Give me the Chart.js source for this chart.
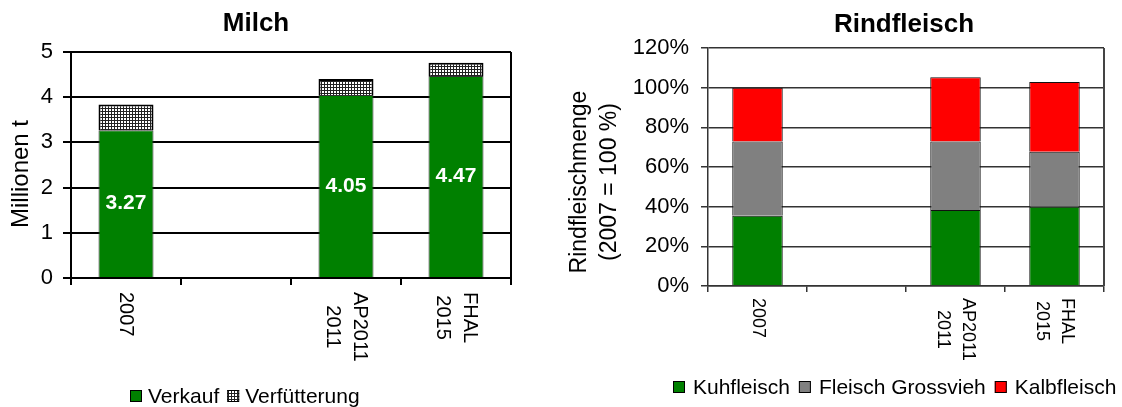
<!DOCTYPE html>
<html>
<head>
<meta charset="utf-8">
<script src="https://cdn.jsdelivr.net/npm/chart.js@4"></script>
<style>
    html, body { margin: 0; padding: 0; background: #fff; }
    #wrap { position: relative; width: 1122px; height: 407px; }
    #milch { position: absolute; left: 0; top: 0; }
    #rind { position: absolute; left: 560px; top: 0; }
</style>
</head>
<body>
<div id="wrap">
    <canvas id="milch" width="560" height="407"></canvas>
    <canvas id="rind" width="562" height="407"></canvas>
</div>
<script>
// categories (second slot is an empty gap on the axis)
const categories = [['2007'], [''], ['AP2011', '2011'], ['FHAL', '2015']];

// Milch, million t
const milchVerkauf = [3.27, null, 4.05, 4.47];
const milchVerfuetterung = [0.57, null, 0.35, 0.29];
const milchTicks = [0, 1, 2, 3, 4, 5];

// Rindfleisch, % of 2007
const rindKuh = [35.4, null, 38.3, 39.9];
const rindGross = [37.4, null, 34.5, 27.8];
const rindKalb = [27.2, null, 32.4, 35.1];
const rindTicks = [0, 20, 40, 60, 80, 100, 120];

const FONT = 'Arial, "Liberation Sans", sans-serif';

function makePattern() {
    const c = document.createElement('canvas');
    c.width = 3;
    c.height = 3;
    const g = c.getContext('2d');
    g.fillStyle = '#fff';
    g.fillRect(0, 0, 3, 3);
    g.fillStyle = '#222';
    g.fillRect(0, 0, 3, 1);
    g.fillRect(0, 0, 1, 3);
    return g.createPattern(c, 'repeat');
}

// title, axis title, turned x labels, legend, value labels, right frame line
const extras = {
    id: 'extras',
    afterDraw(chart, args, o) {
        const ctx = chart.ctx;
        const area = chart.chartArea;
        const xs = chart.scales.x;
        ctx.save();

        // right frame line
        ctx.strokeStyle = o.frameColor;
        ctx.lineWidth = o.frameWidth;
        ctx.beginPath();
        ctx.moveTo(area.right, area.top);
        ctx.lineTo(area.right, area.bottom);
        ctx.stroke();

        // title
        ctx.fillStyle = '#000';
        ctx.font = 'bold 26px ' + FONT;
        ctx.textAlign = 'center';
        ctx.textBaseline = 'middle';
        ctx.fillText(o.title, o.titleX, o.titleY);

        // y axis title, turned counter-clockwise
        ctx.font = o.yTitleSize + 'px ' + FONT;
        o.yTitle.forEach((t, j) => {
            ctx.save();
            ctx.translate(o.yTitleX[j], o.yTitleY);
            ctx.rotate(-Math.PI / 2);
            ctx.fillText(t, 0, 0);
            ctx.restore();
        });

        // x labels, turned clockwise, lines centred in their block
        ctx.font = o.labelSize + 'px ' + FONT;
        categories.forEach((lines, i) => {
            const x = xs.getPixelForValue(i);
            const w = Math.max(...lines.map(t => ctx.measureText(t).width));
            ctx.save();
            ctx.translate(x, area.bottom + o.labelGap);
            ctx.rotate(Math.PI / 2);
            lines.forEach((t, j) => {
                const off = (j - (lines.length - 1) / 2) * o.labelLine;
                ctx.fillText(t, w / 2, off);
            });
            ctx.restore();
        });

        // value labels in first dataset
        if (o.valueLabels) {
            ctx.fillStyle = '#fff';
            ctx.font = 'bold 21px ' + FONT;
            const meta = chart.getDatasetMeta(0);
            chart.data.datasets[0].data.forEach((v, i) => {
                if (v == null) return;
                const bar = meta.data[i];
                ctx.fillText(v.toFixed(2), bar.x, (bar.y + bar.base) / 2);
            });
        }

        // legend
        ctx.font = '21px ' + FONT;
        ctx.textAlign = 'left';
        let lx = o.legendX;
        chart.data.datasets.forEach(ds => {
            ctx.fillStyle = ds.backgroundColor;
            ctx.fillRect(lx, o.legendY - 6, 12, 12);
            ctx.strokeStyle = '#000';
            ctx.lineWidth = 1;
            ctx.strokeRect(lx + 0.5, o.legendY - 5.5, 11, 11);
            ctx.fillStyle = '#000';
            ctx.fillText(ds.label, lx + 12 + o.legendGap, o.legendY + 1);
            lx += 12 + o.legendGap + ctx.measureText(ds.label).width + o.legendSpace;
        });
        ctx.restore();
    }
};

function yAxis(ticks, max, width, color, lw, tick, pad, fmt) {
    return {
        stacked: true,
        min: 0,
        max: max,
        afterBuildTicks(s) { s.ticks = ticks.map(v => ({ value: v })); },
        afterFit(s) { s.width = width; },
        ticks: {
            color: '#000',
            font: { family: FONT, size: 22 },
            padding: pad,
            callback: fmt
        },
        grid: { color: color, lineWidth: lw, tickLength: tick },
        border: { color: color, width: lw }
    };
}

function xAxis(height, color, lw, tick) {
    return {
        stacked: true,
        offset: true,
        afterFit(s) { s.height = height; },
        ticks: { display: false },
        grid: { offset: true, drawOnChartArea: false, color: color, lineWidth: lw, tickLength: tick },
        border: { color: color, width: lw }
    };
}

new Chart(document.getElementById('milch'), {
    type: 'bar',
    data: {
        labels: categories,
        datasets: [
            {
                label: 'Verkauf',
                data: milchVerkauf,
                backgroundColor: '#008000',
                borderColor: '#333',
                borderWidth: 1
            },
            {
                label: 'Verfütterung',
                data: milchVerfuetterung,
                backgroundColor: makePattern(),
                borderColor: '#000',
                borderWidth: 2
            }
        ]
    },
    options: {
        responsive: false,
        animation: false,
        layout: { padding: { top: 52, right: 49, left: 0, bottom: 0 } },
        datasets: { bar: { categoryPercentage: 1, barPercentage: 0.5 } },
        plugins: {
            legend: { display: false },
            tooltip: { enabled: false },
            extras: {
                title: 'Milch', titleX: 256, titleY: 24,
                yTitle: ['Millionen t'], yTitleX: [21], yTitleY: 174, yTitleSize: 24,
                labelSize: 20, labelGap: 14, labelLine: 27,
                legendX: 130, legendY: 396, legendGap: 6, legendSpace: 8,
                valueLabels: true,
                frameColor: '#000', frameWidth: 2
            }
        },
        scales: {
            x: xAxis(129, '#000', 2, 7),
            y: yAxis(milchTicks, 5, 71, '#000', 2, 8, 10, v => v)
        }
    },
    plugins: [extras]
});

new Chart(document.getElementById('rind'), {
    type: 'bar',
    data: {
        labels: categories,
        datasets: [
            { label: 'Kuhfleisch', data: rindKuh, backgroundColor: '#008000', borderColor: '#111', borderWidth: 1 },
            { label: 'Fleisch Grossvieh', data: rindGross, backgroundColor: '#808080', borderColor: '#111', borderWidth: 1 },
            { label: 'Kalbfleisch', data: rindKalb, backgroundColor: '#ff0000', borderColor: '#111', borderWidth: 1 }
        ]
    },
    options: {
        responsive: false,
        animation: false,
        layout: { padding: { top: 48, right: 18, left: 0, bottom: 0 } },
        datasets: { bar: { categoryPercentage: 1, barPercentage: 0.51 } },
        plugins: {
            legend: { display: false },
            tooltip: { enabled: false },
            extras: {
                title: 'Rindfleisch', titleX: 344, titleY: 25,
                yTitle: ['Rindfleischmenge', '(2007 = 100 %)'], yTitleX: [20, 50], yTitleY: 182, yTitleSize: 23,
                labelSize: 18, labelGap: 12, labelLine: 25,
                legendX: 113, legendY: 387, legendGap: 8, legendSpace: 9,
                valueLabels: false,
                frameColor: '#444', frameWidth: 2
            }
        },
        scales: {
            x: xAxis(121, '#333', 1.5, 6),
            y: yAxis(rindTicks, 120, 148, '#333', 1.5, 7, 12, v => v + '%')
        }
    },
    plugins: [extras]
});
</script>
</body>
</html>
